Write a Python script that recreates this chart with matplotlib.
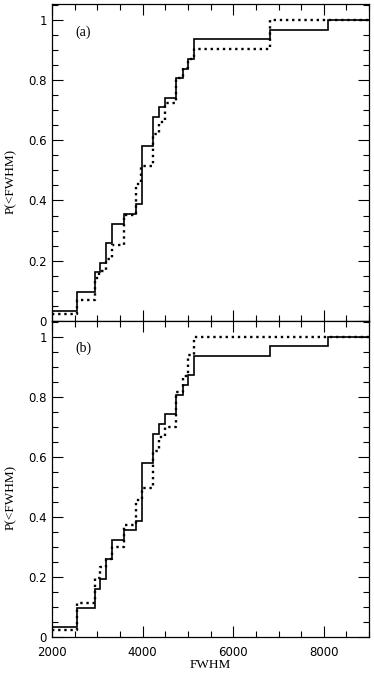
import numpy as np
from matplotlib import pyplot as plt
from matplotlib.ticker import MultipleLocator, FuncFormatter

# step positions (FWHM) and cumulative fractions
solid_edges = [2555, 2945, 3065, 3195, 3330, 3585, 3860, 3978, 4232, 4364,
               4490, 4734, 4882, 4995, 5126, 6807, 8090]
solid_counts = [3, 5, 6, 8, 10, 11, 12, 18, 21, 22, 23, 25, 26, 27, 29, 30, 31]
solid_start = 1
n_obj = 31

dot_a_edges = [2560, 2956, 3030, 3195, 3330, 3585, 3860, 3956, 4230, 4364,
               4490, 4734, 4882, 4995, 5126, 6807]
dot_a_levels = [0.070, 0.142, 0.164, 0.205, 0.252, 0.352, 0.455, 0.515, 0.620,
                0.660, 0.723, 0.806, 0.839, 0.871, 0.903, 1.0]
dot_a_start = 0.023

dot_b_edges = [2560, 2956, 3067, 3200, 3330, 3585, 3860, 3978, 4230, 4364,
               4490, 4734, 4882, 4995, 5126]
dot_b_levels = [0.112, 0.195, 0.234, 0.261, 0.300, 0.372, 0.455, 0.496, 0.620,
                0.665, 0.700, 0.815, 0.870, 0.940, 1.0]
dot_b_start = 0.023

panel_tags = ['(a)', '(b)']

xmin, xmax = 2000, 9000


def draw_step(ax, edges, levels, start, **kw):
    x = np.r_[xmin, edges, xmax]
    y = np.r_[start, levels, levels[-1]]
    ax.step(x, y, where='post', **kw)


fig = plt.figure(figsize=(3.74, 6.74), dpi=100)
ax_top = fig.add_axes([0.139, 0.524, 0.848, 0.470])
ax_bot = fig.add_axes([0.139, 0.055, 0.848, 0.469], sharex=ax_top)

solid_levels = np.array(solid_counts) / n_obj
dots = [(dot_a_edges, dot_a_levels, dot_a_start),
        (dot_b_edges, dot_b_levels, dot_b_start)]

for ax, tag, (de, dl, ds) in zip([ax_top, ax_bot], panel_tags, dots):
    draw_step(ax, solid_edges, solid_levels, solid_start / n_obj,
              color='black', lw=1.2, solid_joinstyle='miter')
    draw_step(ax, de, dl, ds, color='black', lw=1.7,
              linestyle=(0, (1, 1.6)), dash_capstyle='butt')

    ax.set_xlim(xmin, xmax)
    ax.set_ylim(0, 1.053)
    ax.xaxis.set_major_locator(MultipleLocator(2000))
    ax.xaxis.set_minor_locator(MultipleLocator(500))
    ax.yaxis.set_major_locator(MultipleLocator(0.2))
    ax.yaxis.set_minor_locator(MultipleLocator(0.05))
    ax.yaxis.set_major_formatter(FuncFormatter(lambda v, p: f'{v:g}'))
    ax.tick_params(which='both', direction='in', top=True, right=True,
                   width=0.8, labelsize=8.5)
    ax.tick_params(which='major', length=8)
    ax.tick_params(which='minor', length=4)
    ax.tick_params(axis='x', pad=6.5)
    for s in ax.spines.values():
        s.set_linewidth(0.9)

    ax.text(2520, 0.96, tag, family='Liberation Serif', fontsize=10,
            ha='left', va='center')
    ax.set_ylabel('P(<FWHM)', family='Liberation Serif', fontsize=9.5)
    ax.yaxis.set_label_coords(-0.112, 0.44)

plt.setp(ax_top.get_xticklabels(), visible=False)
ax_bot.set_xlabel('FWHM', family='Liberation Serif', fontsize=9.5, labelpad=0)

fig.savefig('out.png', dpi=100)
